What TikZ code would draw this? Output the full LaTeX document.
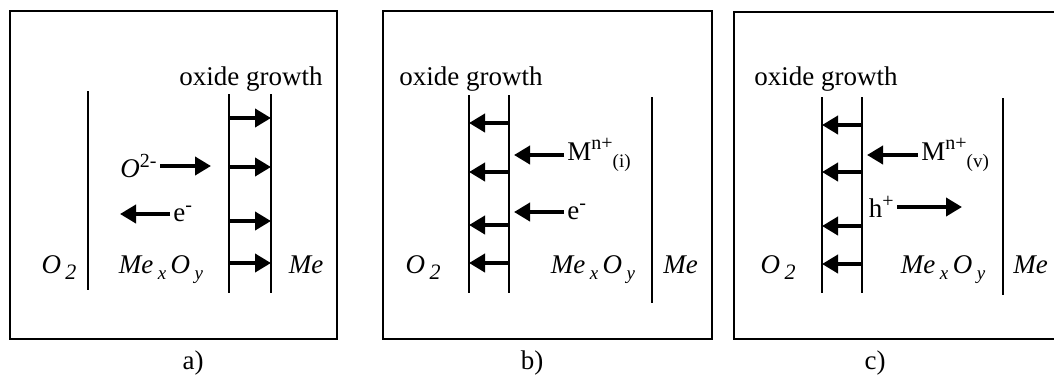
\documentclass[tikz,border=0pt]{standalone}
\usepackage{fontspec}
\setmainfont{Liberation Serif}
\usetikzlibrary{arrows.meta}
\newcommand{\lowi}[2][9.5]{\raisebox{-0.55ex}{\fontsize{#1}{#1}\selectfont #2}}
\newcommand{\upi}[1]{\raisebox{0.85ex}{\fontsize{10}{10}\selectfont #1}}
\tikzset{
  pbox/.style={line width=1.3pt},
  phase/.style={line width=1pt},
  flux/.style={-{Triangle[length=8pt,width=9pt]}, line width=1.9pt},
  lbl/.style={font=\fontsize{13.5}{15}\selectfont, inner sep=1.5pt},
  blbl/.style={lbl, anchor=base},
}
\begin{document}
\begin{tikzpicture}[x=0.5pt,y=-0.5pt]
 \useasboundingbox (0,0) rectangle (1054,381);
 % a) inward oxygen transport
 \draw[pbox] (10,11) rectangle (337,339);
 \draw[phase] (88,91) -- (88,290);
 \draw[phase] (229,94) -- (229,293) (271,94) -- (271,293);
 \foreach \y in {118,167,221,263}
   \draw[flux] (229,\y) -- (271,\y);
 \node[blbl] (agrow) at (251,85) {oxide growth};
 \node[lbl, anchor=east] (aox) at (160,166) {\textit{O}\upi{2-}};
 \coordinate (aoxend) at (211,166);
 \draw[flux] (aox.east) -- (aoxend);
 \node[lbl, anchor=west] (ael) at (170,214) {e\upi{-}};
 \coordinate (aelend) at (120,214);
 \draw[flux] (ael.west) -- (aelend);
 \node[blbl] (ao2) at (59,273) {\textit{O}\,\lowi[11]{\itshape 2}};
 \node[blbl] (aoxd) at (161,273) {\textit{Me}\,\lowi{\itshape x}\,\textit{O}\,\lowi{\itshape y}};
 \node[blbl] (ame) at (306,273) {\textit{Me}};
 \node[blbl] (alab) at (193,369) {a)};
 % b) outward metal transport, interstitials
 \draw[pbox] (383,11) rectangle (712,339);
 \draw[phase] (469,95) -- (469,293) (509,95) -- (509,293);
 \draw[phase] (652,97) -- (652,303);
 \foreach \y in {123,172,225,263}
   \draw[flux] (509,\y) -- (469,\y);
 \node[blbl] (bgrow) at (471,85) {oxide growth};
 \node[lbl, anchor=west] (bmi) at (564,155) {M\upi{n+}\lowi{(i)}};
 \coordinate (bmiend) at (514,155);
 \draw[flux] (bmi.west) -- (bmiend);
 \node[lbl, anchor=west] (bel) at (564,212) {e\upi{-}};
 \coordinate (belend) at (514,212);
 \draw[flux] (bel.west) -- (belend);
 \node[blbl] (bo2) at (423,273) {\textit{O}\,\lowi[11]{\itshape 2}};
 \node[blbl] (boxd) at (593,273) {\textit{Me}\,\lowi{\itshape x}\,\textit{O}\,\lowi{\itshape y}};
 \node[blbl, anchor=base west] (bme) at (660,273) {\textit{Me}};
 \node[blbl] (blab) at (532,369) {b)};
 % c) outward metal transport, vacancies
 \draw[pbox] (1080,12) -- (734,12) -- (734,339) -- (1080,339);
 \draw[phase] (822,97) -- (822,293) (862,97) -- (862,293);
 \draw[phase] (1003,98) -- (1003,295);
 \foreach \y in {125,172,226,264}
   \draw[flux] (862,\y) -- (822,\y);
 \node[blbl] (cgrow) at (826,85) {oxide growth};
 \node[lbl, anchor=west] (cmv) at (918,155) {M\upi{n+}\lowi{(v)}};
 \coordinate (cmvend) at (867,155);
 \draw[flux] (cmv.west) -- (cmvend);
 \node[lbl, anchor=east] (cho) at (897,207) {h\upi{+}};
 \coordinate (choend) at (962,207);
 \draw[flux] (cho.east) -- (choend);
 \node[blbl] (co2) at (778,273) {\textit{O}\,\lowi[11]{\itshape 2}};
 \node[blbl] (coxd) at (943,273) {\textit{Me}\,\lowi{\itshape x}\,\textit{O}\,\lowi{\itshape y}};
 \node[blbl, anchor=base west] (cme) at (1010,273) {\textit{Me}};
 \node[blbl] (clab) at (875,369) {c)};
\end{tikzpicture}
\end{document}
